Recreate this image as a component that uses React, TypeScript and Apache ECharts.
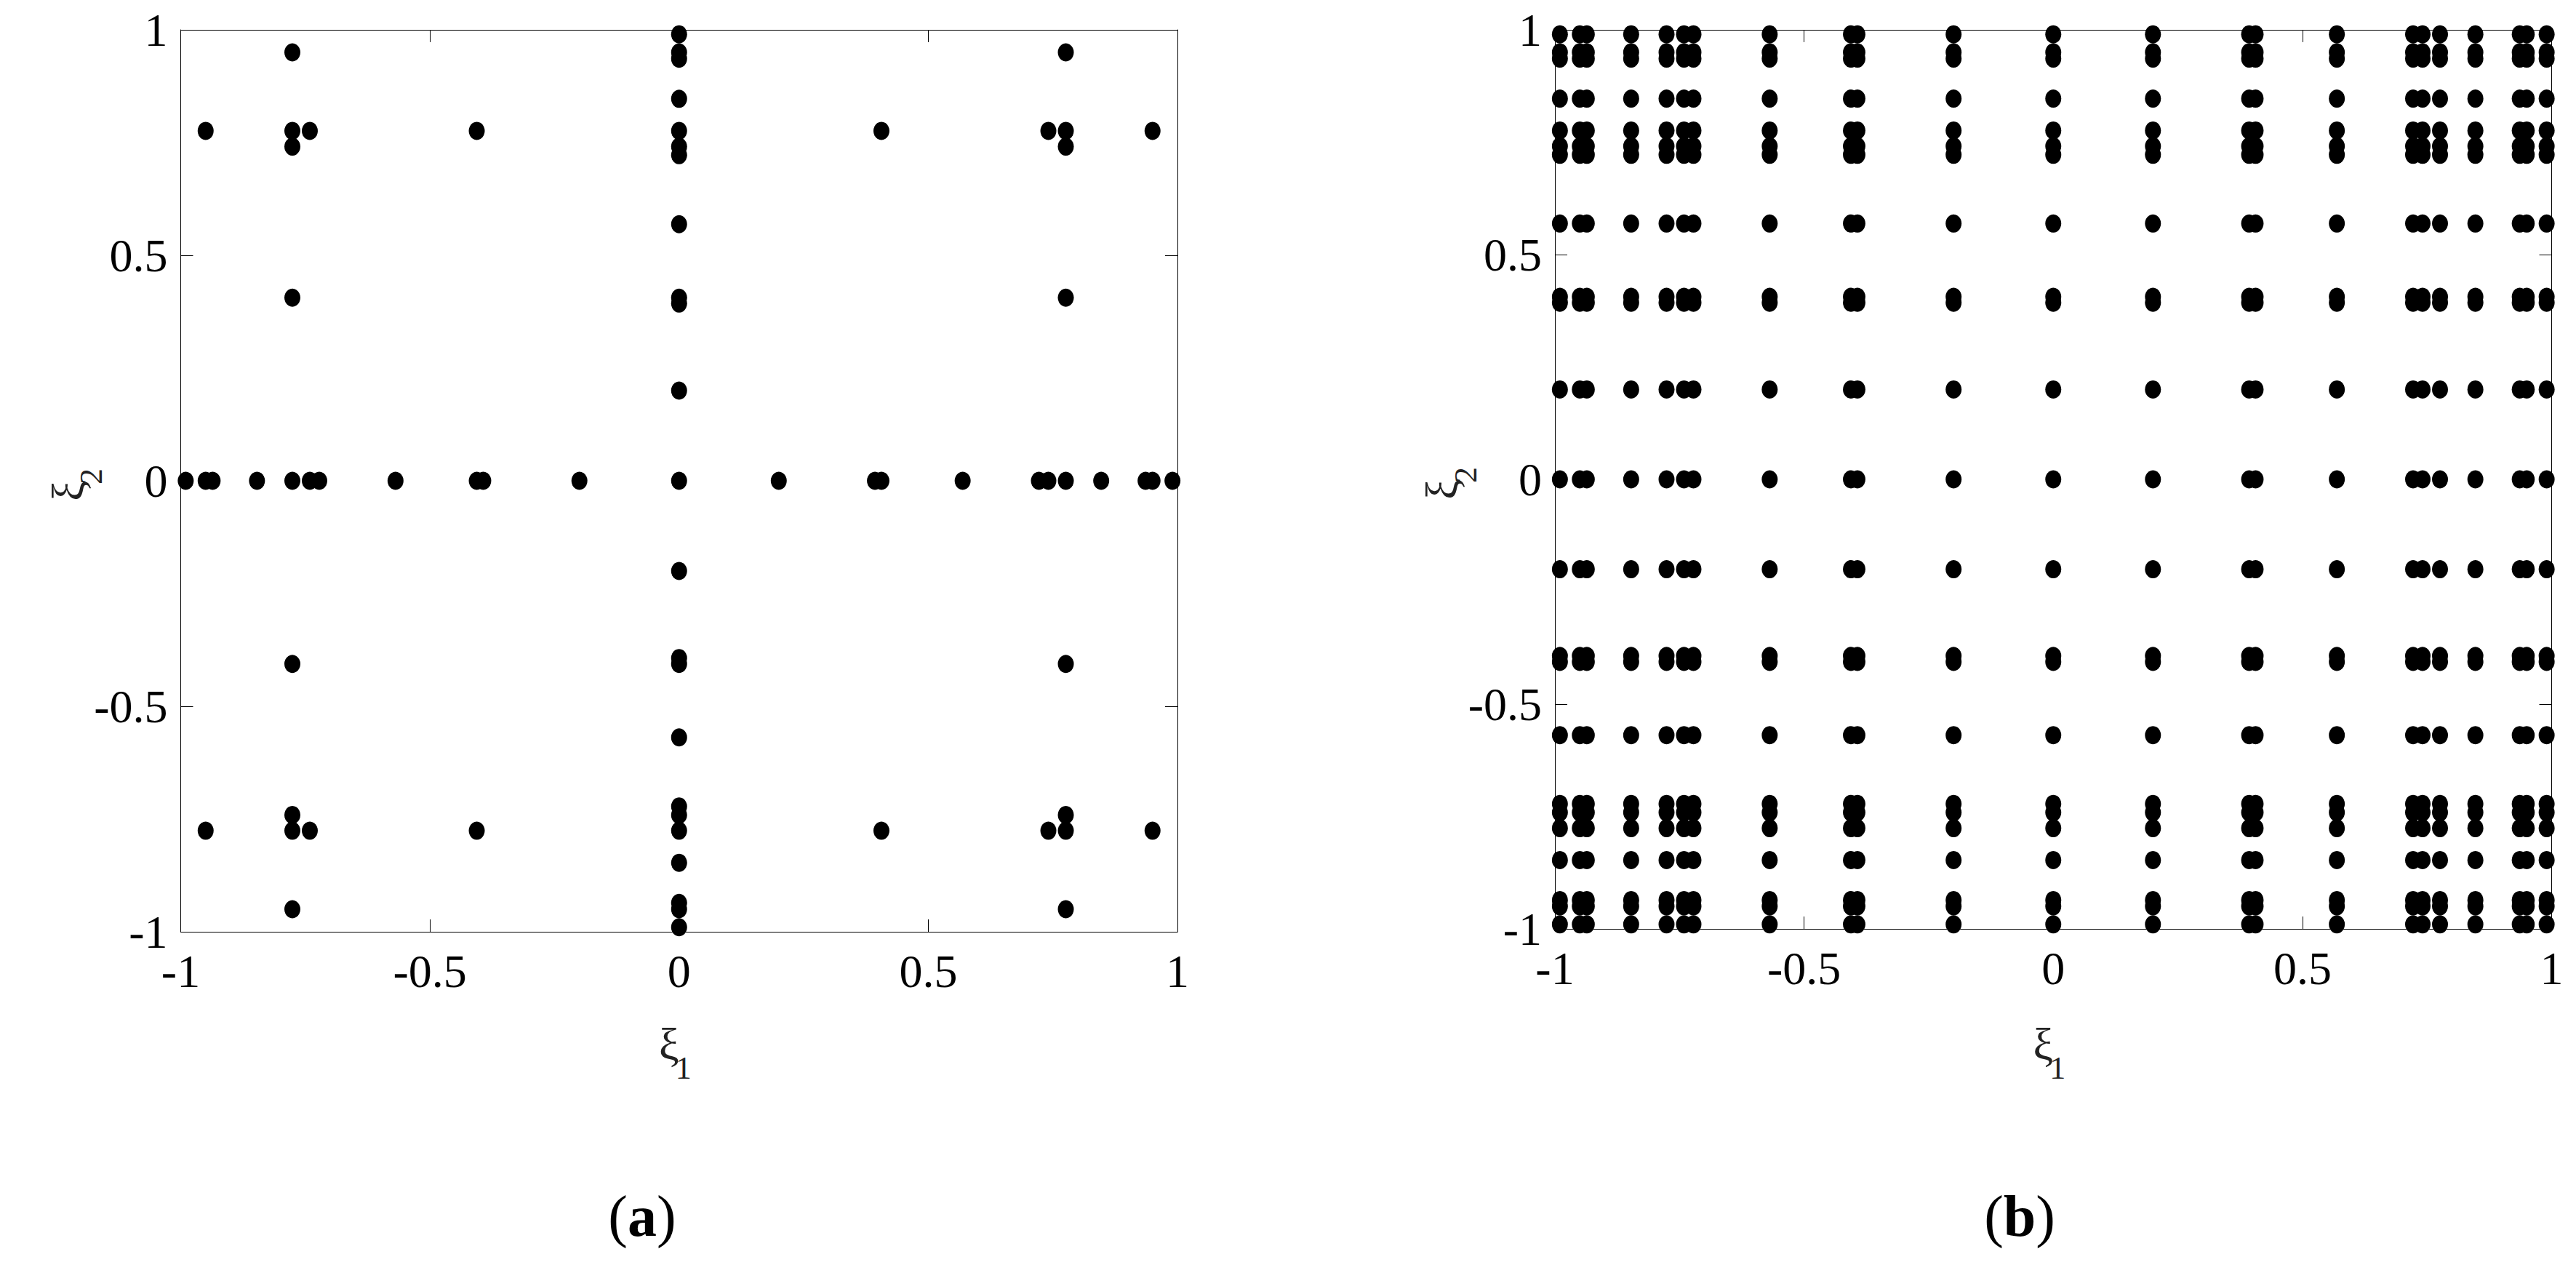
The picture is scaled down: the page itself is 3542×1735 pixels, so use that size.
import React, { useEffect, useRef } from "react";
import * as echarts from "echarts";

// ---------------- data ----------------
// 1-D node values that appear along both axes
const xiNodes: number[] = [
  -0.99, -0.95, -0.936, -0.847, -0.776, -0.741, -0.722, -0.569, -0.406, -0.393, -0.2,
  0, 0.2, 0.393, 0.406, 0.569, 0.722, 0.741, 0.776, 0.847, 0.936, 0.95, 0.99,
];

// Panel (a): points lying on the line xi2 = 0 (xi1 values)
const sparseRowXi1: number[] = [
  -0.99, -0.95, -0.936, -0.847, -0.776, -0.741, -0.722, -0.569, -0.406, -0.393, -0.2,
  0, 0.2, 0.393, 0.406, 0.569, 0.722, 0.741, 0.776, 0.847, 0.936, 0.95, 0.99,
];
// Panel (a): points lying on the line xi1 = 0 (xi2 values)
const sparseColXi2: number[] = [
  -0.99, -0.95, -0.936, -0.847, -0.776, -0.741, -0.722, -0.569, -0.406, -0.393, -0.2,
  0.2, 0.393, 0.406, 0.569, 0.722, 0.741, 0.776, 0.847, 0.936, 0.95, 0.99,
];
// Panel (a): off-axis points [xi1, xi2]
const sparseOffAxis: [number, number][] = [
  [0.776, 0.95], [0.95, 0.776], [0.776, 0.776], [0.741, 0.776], [0.776, 0.741], [0.406, 0.776], [0.776, 0.406],
  [-0.776, 0.95], [-0.95, 0.776], [-0.776, 0.776], [-0.741, 0.776], [-0.776, 0.741], [-0.406, 0.776], [-0.776, 0.406],
  [-0.776, -0.95], [-0.95, -0.776], [-0.776, -0.776], [-0.741, -0.776], [-0.776, -0.741], [-0.406, -0.776], [-0.776, -0.406],
  [0.776, -0.95], [0.95, -0.776], [0.776, -0.776], [0.741, -0.776], [0.776, -0.741], [0.406, -0.776], [0.776, -0.406],
];

// Panel (b): full tensor grid of the same nodes
const fullGridXi1: number[] = xiNodes;
const fullGridXi2: number[] = xiNodes;

// Axis ticks
const axisTicks: number[] = [-1, -0.5, 0, 0.5, 1];
const panelTags: string[] = ["a", "b"];
const xName = "1";
const yName = "2";

// ---------------- layout / style ----------------
const FONT = "'Liberation Serif', 'Times New Roman', serif";
const panels = [
  { left: 248.5, top: 41, width: 1370.5, height: 1240, tagX: 883 },
  { left: 2138, top: 41, width: 1370.5, height: 1236, tagX: 2777 },
];

function buildOption() {
  const tmin = axisTicks[0];
  const tmax = axisTicks[axisTicks.length - 1];
  const tint = axisTicks[1] - axisTicks[0];
  const lineStyle = { color: "#000", width: 1 };

  const grids: any[] = [];
  const xAxes: any[] = [];
  const yAxes: any[] = [];
  const graphics: any[] = [];

  panels.forEach((p, i) => {
    grids.push({ left: p.left, top: p.top, width: p.width, height: p.height, containLabel: false });
    const common = {
      type: "value",
      gridIndex: i,
      min: tmin,
      max: tmax,
      interval: tint,
      splitLine: { show: false },
      axisLine: { show: true, onZero: false, lineStyle },
      axisTick: { show: true, inside: true, length: 17, lineStyle },
    };
    xAxes.push({
      ...common,
      position: "bottom",
      axisLabel: { show: true, margin: 22, fontFamily: FONT, fontSize: 64, color: "#000" },
    });
    xAxes.push({ ...common, position: "top", axisLabel: { show: false } });
    yAxes.push({
      ...common,
      position: "left",
      axisLabel: { show: true, margin: 18, fontFamily: FONT, fontSize: 64, color: "#000" },
    });
    yAxes.push({ ...common, position: "right", axisLabel: { show: false } });

    const cx = p.left + p.width / 2;
    const cy = p.top + p.height / 2;
    // x-axis name: xi with subscript 1
    graphics.push({
      type: "group",
      x: cx - 14,
      y: 1435,
      silent: true,
      children: [
        { type: "text", x: 0, y: 0, style: { text: "ξ", fontFamily: FONT, fontSize: 62, fill: "#222", align: "center", verticalAlign: "middle" } },
        { type: "text", x: 9, y: 33, style: { text: xName, fontFamily: FONT, fontSize: 44, fill: "#222", align: "left", verticalAlign: "middle" } },
      ],
    });
    // y-axis name: xi with subscript 2 (rotated)
    graphics.push({
      type: "group",
      x: p.left - 156,
      y: cy + 14,
      rotation: Math.PI / 2,
      silent: true,
      children: [
        { type: "text", x: 0, y: 0, style: { text: "ξ", fontFamily: FONT, fontSize: 62, fill: "#222", align: "center", verticalAlign: "middle" } },
        { type: "text", x: 9, y: 33, style: { text: yName, fontFamily: FONT, fontSize: 44, fill: "#222", align: "left", verticalAlign: "middle" } },
      ],
    });
    // panel tag (a)/(b)
    graphics.push({
      type: "text",
      x: p.tagX,
      y: 1672,
      silent: true,
      style: {
        text: "({b|" + panelTags[i] + "})",
        fontFamily: FONT,
        fontSize: 80,
        fill: "#000",
        align: "center",
        verticalAlign: "middle",
        rich: { b: { fontFamily: FONT, fontSize: 80, fontWeight: "bold", fill: "#000" } },
      },
    });
  });

  const dataA: [number, number][] = [];
  sparseRowXi1.forEach((x) => dataA.push([x, 0]));
  sparseColXi2.forEach((y) => dataA.push([0, y]));
  sparseOffAxis.forEach((pt) => dataA.push([pt[0], pt[1]]));

  const dataB: [number, number][] = [];
  fullGridXi1.forEach((x) => fullGridXi2.forEach((y) => dataB.push([x, y])));

  const scatterCommon = {
    type: "scatter",
    symbol: "circle",
    symbolSize: [22, 25],
    itemStyle: { color: "#000", opacity: 1 },
    clip: false,
    silent: true,
    emphasis: { disabled: true },
    z: 5,
  };

  return {
    animation: false,
    backgroundColor: "#fff",
    grid: grids,
    xAxis: xAxes,
    yAxis: yAxes,
    graphic: graphics,
    series: [
      { ...scatterCommon, name: "(a)", xAxisIndex: 0, yAxisIndex: 0, data: dataA },
      { ...scatterCommon, name: "(b)", xAxisIndex: 2, yAxisIndex: 2, data: dataB },
    ],
  };
}

export default function App() {
  const ref = useRef<HTMLDivElement>(null);
  useEffect(() => {
    if (!ref.current) return;
    const chart = echarts.init(ref.current, undefined, { renderer: "svg" });
    chart.setOption(buildOption() as any);
    return () => chart.dispose();
  }, []);
  return (
    <div
      ref={ref}
      style={{ position: "absolute", left: 0, top: 0, width: 3542, height: 1735, background: "#fff" }}
    />
  );
}
